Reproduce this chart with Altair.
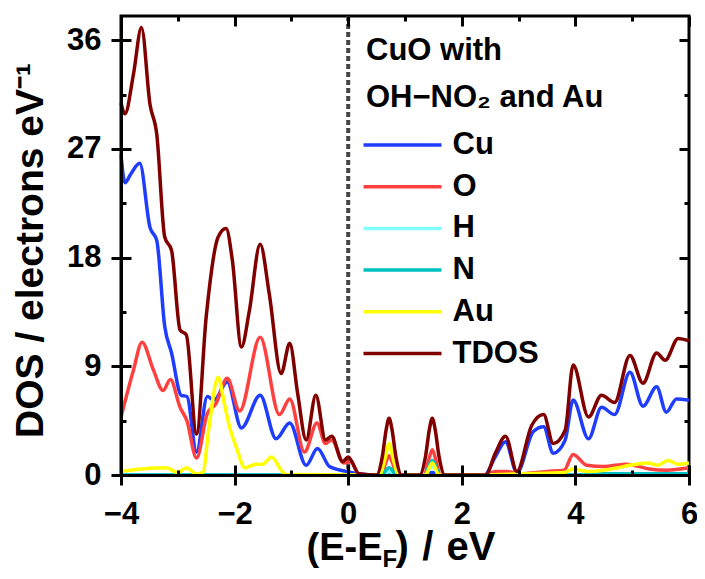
import altair as alt
import pandas as pd

FONT = "Liberation Sans"

series_names = ["Cu", "O", "H", "N", "Au", "TDOS"]
series_colors = ["#1F3DFF", "#FF4040", "#80FFFF", "#00C0C0", "#FFFF00", "#800000"]
series_widths = [3.5, 3.5, 3.5, 3.5, 3.5, 5.5]

tdos_x = [-4.0, -3.93, -3.78, -3.64, -3.49, -3.37, -3.23, -3.11, -2.96, -2.85, -2.67, -2.5, -2.29, -2.15,
          -2.04, -1.88, -1.74, -1.55, -1.39, -1.18, -1.03, -0.89, -0.74, -0.57, -0.40, -0.29, -0.10, 0.0,
          0.19, 0.5, 0.6, 0.67, 0.72, 0.77, 0.84, 0.94, 1.26, 1.36, 1.43, 1.48, 1.53, 1.60, 1.70, 2.42,
          2.59, 2.77, 2.97, 3.23, 3.44, 3.61, 3.82, 3.96, 4.23, 4.46, 4.69, 4.96, 5.19, 5.43, 5.58, 5.81, 6.0]
tdos_y = [30.8, 29.9, 33.2, 37.05, 30.7, 28.2, 19.7, 18.6, 12.0, 11.6, 3.4, 13.1, 19.7, 20.4,
          17.8, 10.6, 13.6, 19.1, 15.0, 8.4, 10.9, 6.75, 2.9, 6.6, 2.9, 3.2, 1.1, 1.5,
          0.1, 0.0, 1.5, 3.8, 4.7, 3.8, 1.5, 0.0, 0.0, 1.5, 3.8, 4.7, 3.8, 1.5, 0.0, 0.0,
          1.8, 3.2, 0.3, 4.1, 5.0, 2.6, 3.7, 9.1, 4.8, 6.6, 6.0, 9.9, 7.6, 10.1, 9.5, 11.3, 11.1]

cu_x = [-4.0, -3.93, -3.83, -3.67, -3.49, -3.37, -3.23, -3.11, -2.94, -2.84, -2.67, -2.48, -2.36, -2.13,
        -1.88, -1.55, -1.27, -1.03, -0.74, -0.54, -0.33, -0.04, 0.3, 0.6, 0.72, 0.85, 1.35, 1.48, 1.6,
        2.4, 2.59, 2.77, 2.97, 3.26, 3.44, 3.61, 3.82, 3.96, 4.23, 4.46, 4.69, 4.96, 5.19, 5.43, 5.60,
        5.78, 6.0]
cu_y = [26.5, 24.2, 24.9, 25.8, 20.5, 19.4, 12.3, 10.1, 6.6, 6.5, 1.9, 6.5, 6.2, 7.7,
        3.9, 6.6, 3.0, 4.3, 0.8, 2.2, 0.7, 0.3, 0.05, 0.0, 0.2, 0.0, 0.0, 0.2, 0.0,
        0.0, 1.5, 2.75, 0.2, 3.6, 4.0, 1.8, 2.9, 6.2, 3.0, 5.6, 5.0, 8.5, 5.7, 7.3, 5.2,
        6.3, 6.2]

o_x = [-4.0, -3.78, -3.63, -3.43, -3.26, -3.13, -2.96, -2.84, -2.67, -2.48, -2.33, -2.13, -1.91, -1.55,
       -1.21, -1.03, -0.77, -0.55, -0.40, -0.29, -0.08, 0.05, 0.2, 0.58, 0.66, 0.72, 0.78, 0.86, 1.34,
       1.42, 1.48, 1.54, 1.62, 2.4, 2.6, 2.8, 3.0, 3.5, 3.8, 3.96, 4.2, 4.5, 4.9, 5.3, 5.6, 6.0]
o_y = [4.8, 8.7, 11.0, 8.7, 7.0, 7.9, 5.6, 4.5, 1.4, 5.1, 5.9, 8.0, 5.3, 11.4,
       5.0, 6.3, 1.9, 4.3, 2.6, 2.9, 1.0, 1.1, 0.0, 0.0, 1.0, 1.6, 1.0, 0.0, 0.0,
       1.3, 2.1, 1.3, 0.0, 0.0, 0.3, 0.3, 0.1, 0.3, 0.4, 1.7, 0.8, 0.7, 0.9, 0.5, 0.4, 0.6]

h_x = [-4.0, 0.58, 0.72, 0.86, 1.34, 1.48, 1.62, 6.0]
h_y = [0.0, 0.0, 0.3, 0.0, 0.0, 0.7, 0.0, 0.0]

n_x = [-4.0, 0.58, 0.72, 0.86, 1.34, 1.48, 1.62, 3.9, 4.5, 5.2, 6.0]
n_y = [0.0, 0.0, 0.6, 0.0, 0.0, 1.2, 0.0, 0.0, 0.1, 0.1, 0.1]

au_x = [-4.0, -3.49, -3.2, -3.0, -2.85, -2.67, -2.56, -2.45, -2.29, -2.18, -2.09, -1.97, -1.82, -1.62,
        -1.51, -1.35, -1.18, -1.10, 0.55, 0.64, 0.72, 0.80, 0.89, 1.36, 1.48, 1.60, 2.4, 3.0, 3.8, 3.96,
        4.2, 4.5, 4.75, 4.95, 5.28, 5.45, 5.63, 5.8, 6.0]
au_y = [0.3, 0.55, 0.6, 0.2, 0.6, 0.1, 0.2, 4.0, 8.1, 5.9, 4.0, 2.3, 0.6, 0.9,
        0.9, 1.5, 0.4, 0.05, 0.0, 1.2, 2.6, 1.2, 0.0, 0.0, 1.0, 0.0, 0.0, 0.1, 0.2, 0.5,
        0.3, 0.4, 0.6, 0.8, 1.0, 0.8, 1.2, 0.9, 1.0]

major_x = [-4, -2, 0, 2, 4, 6]
minor_x = [-3, -1, 1, 3, 5]
major_y = [0, 9, 18, 27, 36]
minor_y = [4.5, 13.5, 22.5, 31.5]

all_series = {"Cu": (cu_x, cu_y), "O": (o_x, o_y), "H": (h_x, h_y), "N": (n_x, n_y),
              "Au": (au_x, au_y), "TDOS": (tdos_x, tdos_y)}
rows = []
for name in series_names:
    xs, ys = all_series[name]
    for i, (a, b) in enumerate(zip(xs, ys)):
        rows.append({"E": a, "DOS": b, "species": name, "i": i})
df = pd.DataFrame(rows)

xscale = alt.Scale(domain=[-4, 6], nice=False, zero=False)
yscale = alt.Scale(domain=[0, 38], nice=False, zero=False)

tick_common = dict(grid=False, tickColor="black", labelFont=FONT, labelFontSize=31,
                   labelFontWeight="bold", labelColor="black", titleFont=FONT,
                   titleFontWeight="bold", titleColor="black", zindex=1)


def hidden_axis(orient, values, size, offset, title=None, **kw):
    d = dict(orient=orient, values=values, tickSize=size, tickWidth=3, offset=-offset,
             labels=False, domain=False, grid=False, tickColor="black", zindex=1)
    if title is not None:
        d.update(title=title, titleFont=FONT, titleFontWeight="bold", titleColor="black")
        d.update(kw)
    else:
        d.update(title=None)
    return alt.Axis(**d)


lines = alt.Chart(df).mark_line(interpolate="monotone").encode(
    x=alt.X("E:Q", scale=xscale, axis=alt.Axis(
        orient="bottom", values=major_x, tickSize=10, tickWidth=3, domain=True, domainWidth=3,
        domainColor="black", labelPadding=14, labelFlush=False, labelOverlap=False,
        title="(E-E", titleFontSize=38, titleAlign="right", titleBaseline="alphabetic",
        titleX=261, titleY=84, **tick_common)),
    y=alt.Y("DOS:Q", scale=yscale, axis=alt.Axis(
        orient="left", values=major_y, tickSize=10, tickWidth=3, domain=True, domainWidth=3,
        domainColor="black", labelPadding=10, labelFlush=False, labelOverlap=False,
        title="DOS / electrons eV⁻¹", titleFontSize=39, titleAngle=-90, titleAlign="center",
        titleBaseline="alphabetic", titleX=-79, titleY=234, **tick_common)),
    color=alt.Color("species:N", scale=alt.Scale(domain=series_names, range=series_colors),
                    sort=series_names,
                    legend=alt.Legend(
                        title=["CuO with", "OH−NO₂ and Au"], orient="none", legendX=245, legendY=20,
                        titleFont=FONT, titleFontSize=31, titleFontWeight="bold", titleColor="black",
                        titleLineHeight=47, titlePadding=12, titleLimit=0,
                        labelFont=FONT, labelFontSize=31, labelFontWeight="bold", labelColor="black",
                        labelLimit=0, symbolType="M-2.294,0H2.294", symbolSize=1156,
                        symbolStrokeWidth=4, symbolOffset=17.5, labelOffset=31, rowPadding=7.7,
                        padding=0)),
    strokeWidth=alt.StrokeWidth("species:N", scale=alt.Scale(domain=series_names, range=series_widths),
                                legend=None),
    order=alt.Order("i:Q"),
)

base_pts = alt.Chart(df).mark_point(opacity=0, size=1)

inner_major_bl = base_pts.encode(
    x=alt.X("E:Q", scale=xscale, axis=hidden_axis("bottom", major_x, 10, 10, title="F",
                                                  titleFontSize=24, titleAlign="left",
                                                  titleBaseline="alphabetic", titleX=261, titleY=101)),
    y=alt.Y("DOS:Q", scale=yscale, axis=hidden_axis("left", major_y, 10, 10)),
)
inner_major_tr = base_pts.encode(
    x=alt.X("E:Q", scale=xscale, axis=hidden_axis("top", major_x, 10, 10)),
    y=alt.Y("DOS:Q", scale=yscale, axis=hidden_axis("right", major_y, 10, 10)),
)
inner_minor_bl = base_pts.encode(
    x=alt.X("E:Q", scale=xscale, axis=hidden_axis("bottom", minor_x, 5, 5, title=")\u2004/\u2004eV",
                                                  titleFontSize=40, titleAlign="left",
                                                  titleBaseline="alphabetic", titleX=274, titleY=89)),
    y=alt.Y("DOS:Q", scale=yscale, axis=hidden_axis("left", minor_y, 5, 5)),
)
inner_minor_tr = base_pts.encode(
    x=alt.X("E:Q", scale=xscale, axis=hidden_axis("top", minor_x, 5, 5)),
    y=alt.Y("DOS:Q", scale=yscale, axis=hidden_axis("right", minor_y, 5, 5)),
)

fermi = alt.Chart(pd.DataFrame({"E": [0.0]})).mark_rule(
    color="#454545", strokeWidth=4, strokeDash=[5, 3]
).encode(x=alt.X("E:Q", scale=xscale, axis=None))

chart = alt.layer(
    fermi, lines, inner_major_bl, inner_major_tr, inner_minor_bl, inner_minor_tr
).resolve_axis(x="independent", y="independent").properties(
    width=568, height=459,
    padding={"left": 113, "top": 8, "right": 8, "bottom": 96},
    autosize=alt.AutoSizeParams(type="none"),
).configure_view(stroke="black", strokeWidth=3)

chart.save("out.html", embed_options={"renderer": "svg", "actions": False})
